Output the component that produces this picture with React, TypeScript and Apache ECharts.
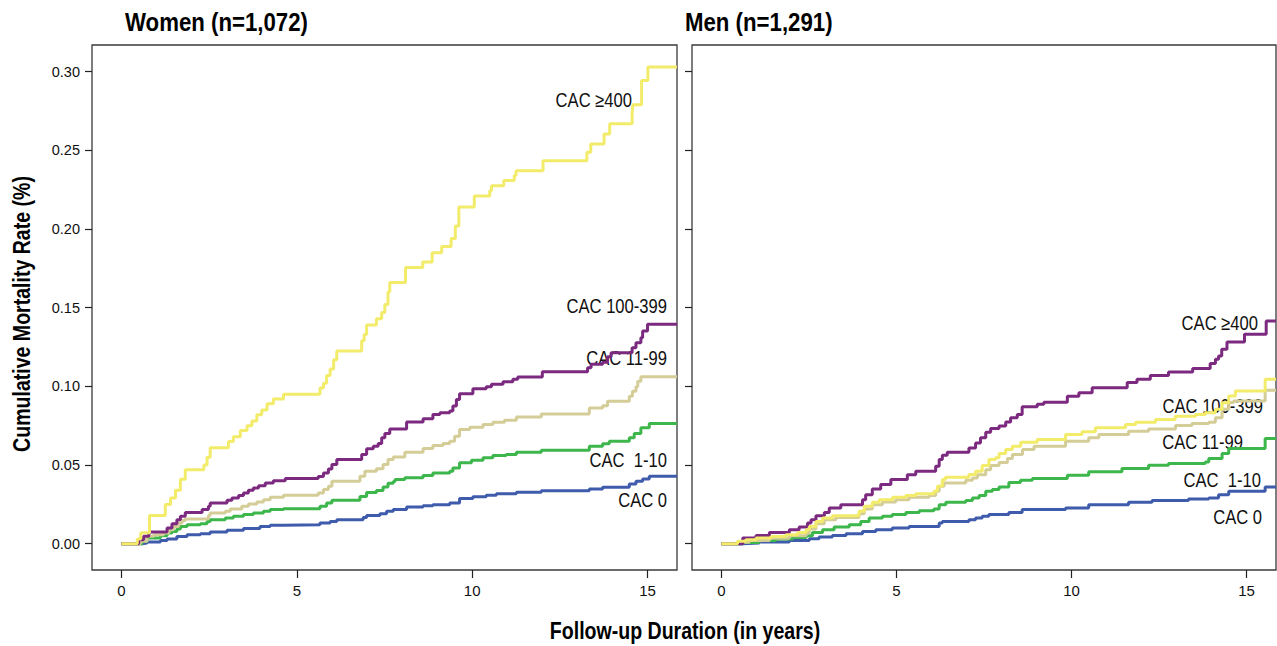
import React, { useEffect, useRef } from "react";
import * as echarts from "echarts";

// ---------- axis ticks ----------
const xTicks = [0, 5, 10, 15];
const yTicks = [0, 0.05, 0.1, 0.15, 0.2, 0.25, 0.3];
const X_MIN = -0.84;
const X_MAX = 15.84;
const Y_MIN = -0.0167;
const Y_MAX = 0.317;

const panelTitles = ["Women (n=1,072)", "Men (n=1,291)"];
const yAxisTitle = "Cumulative Mortality Rate (%)";
const xAxisTitle = "Follow-up Duration (in years)";

// ---------- Women (left panel) ----------
const womenYellow = [
  [0, 0], [0.45, 0.003], [0.55, 0.007], [0.8, 0.018], [1.25, 0.025], [1.4, 0.029], [1.54, 0.034], [1.68, 0.041],
  [1.82, 0.047], [2.35, 0.05], [2.44, 0.055], [2.53, 0.061], [3.05, 0.065], [3.19, 0.068], [3.39, 0.072], [3.58, 0.075],
  [3.72, 0.078], [3.86, 0.082], [4.0, 0.085], [4.15, 0.089], [4.33, 0.092], [4.62, 0.095], [5.66, 0.099], [5.76, 0.102],
  [5.85, 0.107], [5.95, 0.111], [6.05, 0.117], [6.14, 0.1225], [6.85, 0.129], [6.92, 0.133], [6.99, 0.139], [7.27, 0.143],
  [7.42, 0.147], [7.51, 0.152], [7.6, 0.16], [7.65, 0.166], [8.1, 0.1756], [8.59, 0.179], [8.86, 0.185], [9.13, 0.189],
  [9.4, 0.194], [9.52, 0.202], [9.62, 0.214], [10.06, 0.221], [10.5, 0.2244], [10.55, 0.2276], [10.9, 0.2308],
  [11.2, 0.234], [11.25, 0.237], [12.02, 0.2435], [13.27, 0.2488], [13.38, 0.254], [13.76, 0.2605], [13.92, 0.267],
  [14.56, 0.273], [14.58, 0.279], [14.83, 0.2944], [15.01, 0.303],
];
const womenPurple = [
  [0, 0], [0.49, 0.0025], [0.63, 0.0047], [0.78, 0.0075], [1.3, 0.01], [1.44, 0.0127], [1.58, 0.0153], [1.68, 0.0174],
  [1.82, 0.0199], [2.3, 0.0217], [2.48, 0.0238], [2.53, 0.0259], [3.01, 0.0276], [3.15, 0.0291], [3.34, 0.0306],
  [3.48, 0.0323], [3.62, 0.034], [3.76, 0.0355], [3.91, 0.0369], [4.1, 0.0386], [4.33, 0.0401], [4.67, 0.0414],
  [5.61, 0.0428], [5.76, 0.045], [5.9, 0.0475], [6.0, 0.0503], [6.14, 0.0535], [6.85, 0.0567], [6.99, 0.0603],
  [7.18, 0.062], [7.32, 0.0637], [7.42, 0.0673], [7.51, 0.0701], [7.65, 0.073], [8.13, 0.0773], [8.6, 0.0795],
  [8.88, 0.0822], [9.08, 0.0833], [9.36, 0.0843], [9.45, 0.0875], [9.55, 0.0917], [9.64, 0.0953], [10.02, 0.0985],
  [10.4, 0.0998], [10.55, 0.1013], [10.88, 0.103], [11.16, 0.1045], [11.3, 0.106], [12.0, 0.1093], [13.29, 0.1119],
  [13.39, 0.114], [13.72, 0.1154], [13.86, 0.1189], [13.96, 0.1214], [14.56, 0.1246], [14.67, 0.1278], [14.81, 0.131],
  [14.86, 0.1352], [15.0, 0.1395],
];
const womenKhaki = [
  [0, 0], [0.54, 0.0015], [0.73, 0.0047], [0.92, 0.0057], [1.2, 0.0068], [1.35, 0.0089], [1.49, 0.011], [1.63, 0.0131],
  [1.73, 0.0148], [1.82, 0.0157], [2.48, 0.018], [2.53, 0.0195], [2.96, 0.0206], [3.1, 0.0221], [3.43, 0.0238],
  [3.62, 0.0253], [3.86, 0.0266], [4.05, 0.028], [4.24, 0.0295], [4.62, 0.0308], [5.61, 0.0323], [5.76, 0.0344],
  [5.9, 0.0365], [6.0, 0.0397], [6.8, 0.0429], [6.94, 0.0461], [7.27, 0.0476], [7.46, 0.0503], [7.6, 0.0535],
  [7.75, 0.0552], [8.08, 0.0581], [8.6, 0.0605], [8.88, 0.0624], [9.17, 0.0637], [9.36, 0.0652], [9.5, 0.0683],
  [9.64, 0.0726], [9.93, 0.074], [10.31, 0.0758], [10.59, 0.0772], [10.92, 0.0785], [11.26, 0.0806], [11.97, 0.0825],
  [13.34, 0.0863], [13.72, 0.0877], [13.86, 0.0905], [14.48, 0.0937], [14.57, 0.0969], [14.67, 0.0997],
  [14.72, 0.1033], [14.81, 0.1061],
];
const womenGreen = [
  [0, 0], [0.59, 0.0015], [0.73, 0.0036], [1.11, 0.0051], [1.3, 0.0068], [1.44, 0.0078], [1.58, 0.0093], [1.68, 0.011],
  [1.87, 0.0121], [2.25, 0.0127], [2.44, 0.0142], [2.53, 0.0153], [2.96, 0.0164], [3.19, 0.0174], [3.48, 0.0185],
  [3.76, 0.0195], [4.05, 0.0206], [4.24, 0.0217], [4.62, 0.0223], [5.66, 0.0238], [5.85, 0.0259], [6.0, 0.0276],
  [6.8, 0.03], [6.99, 0.0325], [7.27, 0.0338], [7.46, 0.036], [7.6, 0.0385], [7.75, 0.0396], [7.8, 0.0408],
  [8.08, 0.0419], [8.6, 0.0433], [8.88, 0.045], [9.36, 0.0461], [9.45, 0.0482], [9.64, 0.0514], [9.98, 0.0531],
  [10.31, 0.0546], [10.59, 0.0561], [10.97, 0.0567], [11.26, 0.0582], [11.97, 0.0594], [13.34, 0.062], [13.72, 0.0635],
  [13.91, 0.0652], [14.48, 0.0673], [14.62, 0.0701], [14.81, 0.0737], [15.05, 0.0764],
];
const womenBlue = [
  [0, 0], [0.59, 0.0004], [0.73, 0.0011], [1.11, 0.0021], [1.3, 0.003], [1.58, 0.0046], [1.87, 0.0057], [2.25, 0.0064],
  [2.53, 0.0075], [3.01, 0.0085], [3.48, 0.0096], [3.95, 0.011], [4.24, 0.0117], [4.62, 0.0121], [5.66, 0.0132],
  [5.95, 0.0142], [6.14, 0.0153], [6.89, 0.0167], [6.99, 0.018], [7.37, 0.0191], [7.56, 0.0206], [7.75, 0.0217],
  [8.13, 0.0234], [8.6, 0.0242], [8.88, 0.0248], [9.36, 0.0259], [9.64, 0.0287], [10.02, 0.0298], [10.4, 0.0308],
  [10.69, 0.0317], [11.26, 0.0327], [11.97, 0.0336], [13.34, 0.0348], [13.72, 0.0359], [14.48, 0.038], [14.67, 0.0397],
  [14.86, 0.0412], [15.05, 0.0429],
];

// ---------- Men (right panel) ----------
const menPurple = [
  [0, 0], [0.61, 0.0036], [0.99, 0.0053], [1.37, 0.0072], [1.94, 0.0089], [2.22, 0.0106], [2.46, 0.0132], [2.56, 0.0153],
  [2.7, 0.0178], [2.94, 0.0199], [3.08, 0.0227], [3.41, 0.0248], [4.03, 0.028], [4.12, 0.0312], [4.31, 0.0348],
  [4.55, 0.0376], [4.84, 0.0408], [5.31, 0.0439], [5.55, 0.0461], [6.12, 0.0493], [6.22, 0.0535], [6.31, 0.0562],
  [6.45, 0.0582], [7.07, 0.0609], [7.26, 0.0641], [7.4, 0.0673], [7.55, 0.0709], [7.69, 0.0732], [7.93, 0.0748],
  [8.12, 0.0773], [8.26, 0.0801], [8.45, 0.0822], [8.59, 0.0871], [9.02, 0.0886], [9.21, 0.09], [9.88, 0.0938],
  [10.21, 0.096], [10.59, 0.0992], [11.59, 0.1024], [11.87, 0.1045], [12.25, 0.107], [12.77, 0.1091], [13.46, 0.1113],
  [13.96, 0.1146], [14.11, 0.1172], [14.2, 0.1193], [14.29, 0.1236], [14.44, 0.1282], [14.94, 0.1331], [15.56, 0.1416],
];
const menYellow = [
  [0, 0], [0.46, 0.0015], [0.7, 0.0025], [0.99, 0.0036], [1.42, 0.0046], [1.84, 0.0057], [2.18, 0.0072], [2.42, 0.0089],
  [2.51, 0.011], [2.7, 0.0142], [2.89, 0.0163], [3.17, 0.0178], [3.93, 0.0206], [4.08, 0.0238], [4.31, 0.0263],
  [4.51, 0.028], [4.89, 0.0295], [5.27, 0.0306], [5.55, 0.0318], [6.07, 0.0333], [6.17, 0.0365], [6.31, 0.0408],
  [6.4, 0.0423], [7.07, 0.044], [7.26, 0.0461], [7.45, 0.0497], [7.64, 0.0535], [7.83, 0.0546], [7.93, 0.0573],
  [8.12, 0.0599], [8.31, 0.062], [8.55, 0.0645], [9.02, 0.0662], [9.83, 0.0694], [10.3, 0.0712], [10.68, 0.0737],
  [11.54, 0.0758], [11.83, 0.0772], [12.4, 0.0789], [12.96, 0.081], [13.54, 0.0822], [13.82, 0.0832], [14.11, 0.0854],
  [14.3, 0.0896], [14.49, 0.0939], [14.68, 0.097], [15.53, 0.1045],
];
const menKhaki = [
  [0, 0], [0.46, 0.001], [0.8, 0.002], [1.37, 0.0035], [1.94, 0.005], [2.42, 0.0068], [2.51, 0.0093], [2.7, 0.0127],
  [2.94, 0.0153], [3.27, 0.0167], [3.93, 0.0191], [4.08, 0.0221], [4.31, 0.0248], [4.6, 0.0265], [4.98, 0.028],
  [5.36, 0.0295], [5.93, 0.0306], [6.12, 0.0333], [6.22, 0.0365], [6.36, 0.0386], [6.98, 0.0403], [7.17, 0.0418],
  [7.31, 0.0439], [7.55, 0.0471], [7.69, 0.0497], [7.93, 0.0516], [8.17, 0.0541], [8.31, 0.0567], [8.6, 0.0599],
  [8.93, 0.062], [9.83, 0.0652], [10.49, 0.0673], [10.78, 0.0694], [11.63, 0.0715], [12.2, 0.073], [12.97, 0.0752],
  [13.44, 0.0764], [13.92, 0.0772], [14.11, 0.0801], [14.3, 0.0854], [14.49, 0.0897], [14.63, 0.0907], [15.53, 0.0976],
];
const menGreen = [
  [0, 0], [0.61, 0.0008], [1.08, 0.0021], [1.56, 0.003], [2.03, 0.004], [2.42, 0.0051], [2.6, 0.0072], [2.89, 0.0089],
  [3.22, 0.0106], [3.65, 0.0121], [3.98, 0.0142], [4.22, 0.0163], [4.6, 0.0174], [4.88, 0.0185], [5.27, 0.0199],
  [5.65, 0.021], [6.07, 0.0221], [6.22, 0.0248], [6.41, 0.0263], [6.98, 0.0274], [7.17, 0.0291], [7.36, 0.0306],
  [7.55, 0.0333], [7.74, 0.0344], [7.93, 0.0361], [8.21, 0.0389], [8.54, 0.0403], [8.88, 0.0414], [9.88, 0.0435],
  [10.49, 0.0457], [11.44, 0.0478], [12.2, 0.0499], [12.77, 0.051], [13.82, 0.052], [13.92, 0.0541], [14.3, 0.0573],
  [14.49, 0.0605], [15.53, 0.0669],
];
const menBlue = [
  [0, 0], [0.61, 0.0004], [1.08, 0.0011], [1.94, 0.0021], [2.51, 0.0032], [2.79, 0.0042], [3.17, 0.0053], [3.56, 0.0064],
  [4.03, 0.0078], [4.41, 0.0089], [4.88, 0.01], [5.36, 0.011], [6.22, 0.0131], [6.31, 0.0142], [7.07, 0.0153],
  [7.26, 0.0163], [7.45, 0.0174], [7.64, 0.0185], [8.21, 0.0199], [8.59, 0.0217], [9.83, 0.0227], [10.49, 0.0248],
  [11.63, 0.0263], [12.3, 0.0274], [13.34, 0.0285], [13.92, 0.0291], [14.2, 0.0312], [14.49, 0.0333], [15.53, 0.0361],
];

// ---------- curve labels ----------
const womenLabels = ["CAC \u2265400", "CAC 100-399", "CAC 11-99", "CAC  1-10", "CAC 0"];
const menLabels = ["CAC \u2265400", "CAC 100-399", "CAC 11-99", "CAC  1-10", "CAC 0"];

const COLORS = {
  yellow: "#F2EC6A",
  purple: "#7C2A80",
  khaki: "#D5CD97",
  green: "#3DB64B",
  blue: "#3F5BAC",
};

const SANS = "'Liberation Sans', Arial, sans-serif";

function extend(data: number[][]) {
  const last = data[data.length - 1];
  return [...data, [X_MAX, last[1]]];
}

function makeSeries(data: number[][], color: string, idx: number) {
  return {
    type: "line",
    xAxisIndex: idx,
    yAxisIndex: idx,
    step: "end",
    data: extend(data),
    showSymbol: false,
    symbol: "none",
    lineStyle: { color, width: 3 },
    itemStyle: { color },
    clip: true,
  };
}

function xAxisCfg(idx: number) {
  return {
    gridIndex: idx,
    type: "value",
    min: X_MIN,
    max: X_MAX,
    splitLine: { show: false },
    axisLine: { show: false, onZero: false },
    axisTick: { show: true, length: 8, customValues: xTicks, lineStyle: { color: "#222", width: 1.2 } },
    axisLabel: { customValues: xTicks, margin: 13, fontSize: 15, color: "#111", fontFamily: SANS },
  };
}

function yAxisCfg(idx: number, showLabels: boolean) {
  return {
    gridIndex: idx,
    type: "value",
    min: Y_MIN,
    max: Y_MAX,
    splitLine: { show: false },
    axisLine: { show: false, onZero: false },
    axisTick: { show: true, length: 7, customValues: yTicks, lineStyle: { color: "#222", width: 1.2 } },
    axisLabel: {
      show: showLabels,
      customValues: yTicks,
      margin: 12,
      fontSize: 14.5,
      color: "#111",
      fontFamily: SANS,
      formatter: (v: number) => v.toFixed(2),
    },
  };
}

function label(text: string, x: number, y: number) {
  return {
    type: "text",
    x,
    y,
    scaleX: 0.83,
    style: {
      text,
      fill: "#111",
      font: `20px ${SANS}`,
      textAlign: "right",
      textVerticalAlign: "middle",
      align: "right",
      verticalAlign: "middle",
    },
  };
}

export default function App() {
  const ref = useRef<HTMLDivElement>(null);
  useEffect(() => {
    if (!ref.current) return;
    const chart = echarts.init(ref.current, null, { renderer: "svg" });
    const labelPosLeft = [
      [632, 100],
      [667, 306],
      [667, 358],
      [667, 460],
      [667, 500],
    ];
    const labelPosRight = [
      [1258, 323],
      [1263, 406],
      [1243, 442],
      [1261, 480],
      [1262, 517],
    ];
    const option: any = {
      animation: false,
      backgroundColor: "#ffffff",
      grid: [
        { left: 92, top: 45, width: 585, height: 525, show: true, borderColor: "#3a3a3a", borderWidth: 1.3, backgroundColor: "transparent" },
        { left: 692, top: 45, width: 584, height: 525, show: true, borderColor: "#3a3a3a", borderWidth: 1.3, backgroundColor: "transparent" },
      ],
      xAxis: [xAxisCfg(0), xAxisCfg(1)],
      yAxis: [yAxisCfg(0, true), yAxisCfg(1, false)],
      series: [
        makeSeries(womenBlue, COLORS.blue, 0),
        makeSeries(womenGreen, COLORS.green, 0),
        makeSeries(womenKhaki, COLORS.khaki, 0),
        makeSeries(womenPurple, COLORS.purple, 0),
        makeSeries(womenYellow, COLORS.yellow, 0),
        makeSeries(menBlue, COLORS.blue, 1),
        makeSeries(menGreen, COLORS.green, 1),
        makeSeries(menKhaki, COLORS.khaki, 1),
        makeSeries(menPurple, COLORS.purple, 1),
        makeSeries(menYellow, COLORS.yellow, 1),
      ],
      graphic: [
        {
          type: "text",
          x: 125,
          y: 22,
          scaleX: 0.855,
          style: { text: panelTitles[0], fill: "#000", font: `bold 26px ${SANS}`, textVerticalAlign: "middle", verticalAlign: "middle" },
        },
        {
          type: "text",
          x: 685,
          y: 22,
          scaleX: 0.855,
          style: { text: panelTitles[1], fill: "#000", font: `bold 26px ${SANS}`, textVerticalAlign: "middle", verticalAlign: "middle" },
        },
        {
          type: "text",
          x: 22,
          y: 314,
          rotation: Math.PI / 2,
          scaleX: 0.815,
          style: {
            text: yAxisTitle,
            fill: "#000",
            font: `bold 24px ${SANS}`,
            textAlign: "center",
            textVerticalAlign: "middle",
            align: "center",
            verticalAlign: "middle",
          },
        },
        {
          type: "text",
          x: 685,
          y: 631,
          scaleX: 0.815,
          style: {
            text: xAxisTitle,
            fill: "#000",
            font: `bold 24px ${SANS}`,
            textAlign: "center",
            textVerticalAlign: "middle",
            align: "center",
            verticalAlign: "middle",
          },
        },
        ...womenLabels.map((t, i) => label(t, labelPosLeft[i][0], labelPosLeft[i][1])),
        ...menLabels.map((t, i) => label(t, labelPosRight[i][0], labelPosRight[i][1])),
      ],
    };
    chart.setOption(option);
    return () => chart.dispose();
  }, []);
  return (
    <div
      ref={ref}
      style={{ position: "fixed", left: 0, top: 0, width: 1277, height: 646, background: "#fff" }}
    />
  );
}
